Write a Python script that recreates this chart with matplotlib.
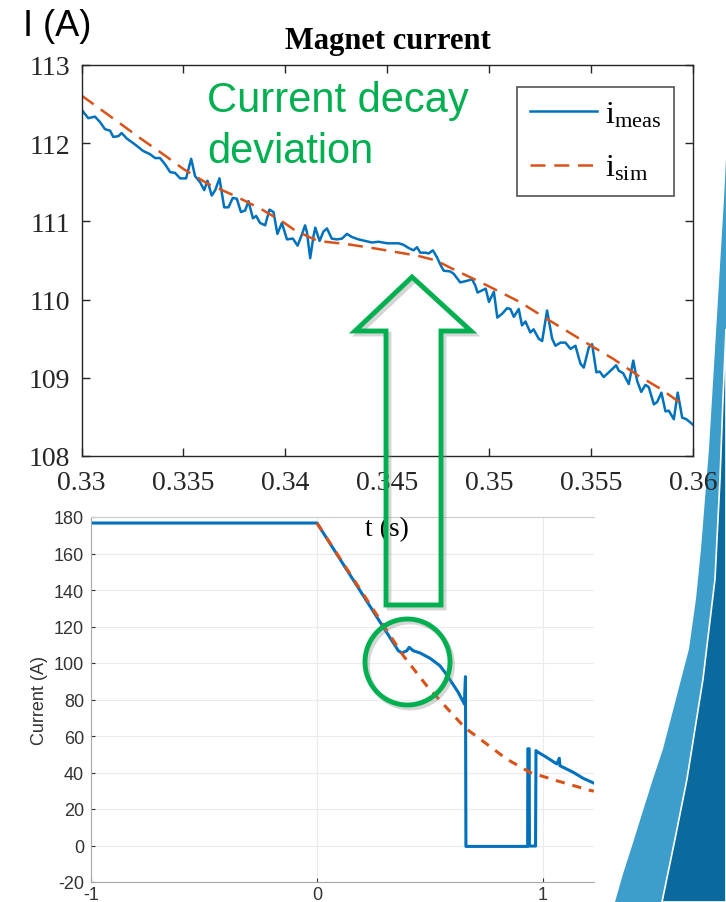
import matplotlib
matplotlib.use("Agg")
import matplotlib.pyplot as plt
from matplotlib.patches import Polygon, Ellipse

plt.rcParams['axes.unicode_minus'] = False

W, H = 726, 903

# --- top panel: zoom on the decay (measured vs simulated) ---
t_meas = [
    0.33000, 0.33033, 0.33066, 0.33091, 0.33115, 0.33140, 0.33156, 0.33181, 0.33197, 0.33222,
    0.33254, 0.33279, 0.33303, 0.33336, 0.33361, 0.33385, 0.33410, 0.33435, 0.33459, 0.33484,
    0.33513, 0.33538, 0.33557, 0.33582, 0.33602, 0.33618, 0.33639, 0.33656, 0.33677, 0.33700,
    0.33721, 0.33742, 0.33762, 0.33782, 0.33803, 0.33819, 0.33841, 0.33857, 0.33876, 0.33901,
    0.33922, 0.33942, 0.33961, 0.33983, 0.34008, 0.34037, 0.34060, 0.34081, 0.34097, 0.34106,
    0.34122, 0.34138, 0.34147, 0.34168, 0.34187, 0.34204, 0.34228, 0.34253, 0.34278, 0.34302,
    0.34327, 0.34359, 0.34392, 0.34425, 0.34457, 0.34499, 0.34531, 0.34556, 0.34580, 0.34605,
    0.34629, 0.34646, 0.34662, 0.34687, 0.34703, 0.34724, 0.34744, 0.34764, 0.34777, 0.34809,
    0.34826, 0.34858, 0.34891, 0.34916, 0.34932, 0.34943, 0.34983, 0.34999, 0.35023, 0.35040,
    0.35064, 0.35088, 0.35104, 0.35121, 0.35145, 0.35161, 0.35178, 0.35202, 0.35218, 0.35243,
    0.35260, 0.35284, 0.35309, 0.35325, 0.35350, 0.35374, 0.35399, 0.35423, 0.35448, 0.35464,
    0.35489, 0.35505, 0.35526, 0.35542, 0.35562, 0.35587, 0.35623, 0.35636, 0.35657, 0.35685,
    0.35707, 0.35726, 0.35746, 0.35767, 0.35783, 0.35808, 0.35824, 0.35845, 0.35865, 0.35881,
    0.35906, 0.35925, 0.35947, 0.35968, 0.36000,
]
i_meas = [
    112.43, 112.32, 112.34, 112.27, 112.18, 112.16, 112.08, 112.09, 112.13, 112.06,
    112.00, 111.95, 111.90, 111.86, 111.81, 111.81, 111.73, 111.63, 111.62, 111.55,
    111.55, 111.80, 111.58, 111.50, 111.40, 111.52, 111.33, 111.40, 111.55, 111.18,
    111.18, 111.30, 111.29, 111.12, 111.14, 111.26, 111.04, 111.07, 110.98, 110.95,
    111.15, 111.12, 110.84, 110.98, 110.77, 110.78, 110.69, 110.83, 110.95, 110.86,
    110.53, 110.81, 110.92, 110.75, 110.87, 110.91, 110.78, 110.77, 110.78, 110.84,
    110.80, 110.77, 110.75, 110.73, 110.74, 110.72, 110.72, 110.72, 110.70, 110.66,
    110.63, 110.67, 110.60, 110.60, 110.59, 110.63, 110.54, 110.43, 110.37, 110.36,
    110.33, 110.22, 110.24, 110.26, 110.18, 110.09, 110.14, 109.97, 110.10, 109.77,
    109.82, 109.89, 109.88, 109.78, 109.88, 109.67, 109.72, 109.58, 109.62, 109.50,
    109.47, 109.86, 109.50, 109.41, 109.45, 109.45, 109.37, 109.41, 109.18, 109.13,
    109.39, 109.43, 109.07, 109.08, 109.01, 109.07, 109.16, 109.09, 109.06, 108.92,
    109.22, 108.96, 108.82, 108.91, 108.88, 108.66, 108.69, 108.81, 108.57, 108.58,
    108.47, 108.81, 108.49, 108.47, 108.40,
]
t_sim = [0.3300, 0.3318, 0.3329, 0.3340, 0.3350, 0.3362, 0.3375, 0.3388, 0.3399, 0.3405,
         0.3416, 0.3430, 0.3445, 0.3465, 0.3474, 0.3483, 0.3496, 0.3515, 0.3526, 0.3538,
         0.3550, 0.3561, 0.3573, 0.3584, 0.3596]
i_sim = [112.61, 112.27, 112.06, 111.86, 111.67, 111.48, 111.33, 111.16, 110.99, 110.88,
         110.75, 110.71, 110.65, 110.56, 110.50, 110.38, 110.22, 109.97, 109.79, 109.60,
         109.41, 109.24, 109.03, 108.86, 108.64]

top_xticks = [0.33, 0.335, 0.34, 0.345, 0.35, 0.355, 0.36]
top_xlabels = ['0.33', '0.335', '0.34', '0.345', '0.35', '0.355', '0.36']
top_yticks = [108, 109, 110, 111, 112, 113]

# --- bottom panel: full discharge ---
t_full_meas = [-1, 0, 0.36, 0.375, 0.397, 0.408, 0.426, 0.456, 0.50, 0.544,
               0.566, 0.596, 0.625, 0.652, 0.657, 0.659, 0.932, 0.933, 0.939, 0.940,
               0.967, 0.969, 0.972, 1.016, 1.061, 1.072, 1.075, 1.134, 1.178, 1.225]
i_full_meas = [176.7, 176.7, 106.7, 105.5, 106.7, 108.6, 106.7, 105.5, 102.6, 98.5,
               94.9, 89.4, 83.9, 77.5, 92.5, -0.5, -0.5, 53, 53, -0.3,
               -0.3, 52, 51.6, 48.3, 44.7, 47.8, 43.7, 40.1, 36.8, 34.2]
t_full_sim = [0, 0.382, 0.485, 0.588, 0.655, 0.736, 0.839, 0.942, 1.061, 1.208, 1.225]
i_full_sim = [176.7, 104, 87.6, 73.5, 64.5, 57, 47.4, 40.1, 35.5, 30.2, 29.8]

bot_xticks = [-1, 0, 1]
bot_yticks = [-20, 0, 20, 40, 60, 80, 100, 120, 140, 160, 180]

BLUE = '#0072BD'
ORANGE = '#D95319'
GREEN = '#00B050'
SERIF = 'Liberation Serif'
SANS = 'Liberation Sans'


def rect(x0, y0, x1, y1):
    return [x0 / W, 1 - y1 / H, (x1 - x0) / W, (y1 - y0) / H]


def pt(x, y):
    return (x / W, 1 - y / H)


fig = plt.figure(figsize=(W / 100, H / 100), dpi=100)

# slide decoration on the right edge (pixel outline)
outer_y = [160, 200, 250, 300, 350, 400, 450, 500, 550, 600, 650, 700, 750, 780, 815, 847, 875, 903]
outer_x = [726, 724, 721, 718, 715, 712, 709, 705, 701, 696, 689, 676, 663, 653, 642, 632, 623, 615]
inner_y = [330, 400, 480, 580, 680, 780, 840, 903]
inner_x = [726, 723, 720, 715, 703, 687, 675, 662]
outer = list(zip(outer_x, outer_y)) + [(726, 903)]
inner = list(zip(inner_x, inner_y)) + [(726, 903)]
fig.add_artist(Polygon([pt(*p) for p in outer], closed=True, transform=fig.transFigure,
                       facecolor='#3d9dcb', edgecolor='none', zorder=-2))
fig.add_artist(Polygon([pt(*p) for p in inner], closed=True, transform=fig.transFigure,
                       facecolor='#0a6a9e', edgecolor='white', lw=1.2, zorder=-1))

# top axes
ax = fig.add_axes(rect(81.5, 66, 693, 457))
ax.set_facecolor('none')
l1, = ax.plot(t_meas, i_meas, color=BLUE, lw=1.8)
l2, = ax.plot(t_sim, i_sim, color=ORANGE, lw=1.8, dashes=(6, 3.5))
ax.set_xlim(0.33, 0.36)
ax.set_ylim(108, 113)
ax.set_xticks(top_xticks)
ax.set_xticklabels(top_xlabels)
ax.set_yticks(top_yticks)
ax.tick_params(direction='in', length=6, width=1, top=True, right=True,
               labelsize=20, colors='#262626')
ax.tick_params(axis='x', pad=10)
ax.tick_params(axis='y', pad=8)
for lab in ax.get_xticklabels() + ax.get_yticklabels():
    lab.set_family(SERIF)
for s in ax.spines.values():
    s.set_color('#262626')
    s.set_linewidth(1.0)

leg = ax.legend([l1, l2], [r'$\mathregular{i_{meas}}$', r'$\mathregular{i_{sim}}$'],
                loc='upper left', bbox_to_anchor=(517 / W, 1 - 88 / H),
                bbox_transform=fig.transFigure, borderaxespad=0,
                prop={'family': SERIF, 'size': 23}, fancybox=False,
                handlelength=2.1, handletextpad=0.25, labelspacing=0.75, borderpad=0.4)
leg.get_frame().set_edgecolor('#262626')
leg.get_frame().set_linewidth(1.2)

fig.text(388 / W, 1 - 42 / H, 'Magnet current', ha='center', va='center',
         family=SERIF, fontsize=22, fontweight='bold')
fig.text(57 / W, 1 - 27 / H, 'I (A)', ha='center', va='center', family=SANS, fontsize=26)

# bottom axes
bx = fig.add_axes(rect(91, 518, 594, 883))
bx.plot(t_full_meas, i_full_meas, color=BLUE, lw=2.2)
bx.plot(t_full_sim, i_full_sim, color=ORANGE, lw=2.2, dashes=(3, 2.6))
bx.set_xlim(-1, 1.2257)
bx.set_ylim(-20, 180)
bx.set_xticks(bot_xticks)
bx.set_yticks(bot_yticks)
bx.grid(True, color='#ebebeb', lw=0.8)
bx.set_axisbelow(True)
bx.tick_params(direction='in', length=3, width=0.8, labelsize=13, colors='#333333', pad=3)
bx.tick_params(axis='y', pad=5)
for lab in bx.get_xticklabels() + bx.get_yticklabels():
    lab.set_family(SANS)
bx.spines['right'].set_visible(False)
bx.spines['top'].set_color('#cccccc')
bx.spines['left'].set_color('#a8a8a8')
bx.spines['bottom'].set_color('#a8a8a8')
bx.set_ylabel('Current (A)', family=SANS, fontsize=13, color='#333333', labelpad=4)

fig.text(387 / W, 1 - 530 / H, 't (s)', ha='center', va='center', family=SERIF,
         fontsize=20, zorder=5)

# green annotations
fig.text(207 / W, 1 - 112 / H, 'Current decay', ha='left', va='baseline',
         family=SANS, fontsize=30, color=GREEN, zorder=10)
fig.text(207 / W, 1 - 163 / H, 'deviation', ha='left', va='baseline',
         family=SANS, fontsize=30, color=GREEN, zorder=10)

arrow = [(412, 278), (471, 332), (441, 332), (441, 606), (386, 606), (386, 332), (355, 332)]
fig.add_artist(Polygon([pt(x + 3, y + 3) for x, y in arrow], closed=True,
                       transform=fig.transFigure, facecolor='none',
                       edgecolor='#888888', lw=3.5, alpha=0.35, zorder=9))
fig.add_artist(Polygon([pt(*p) for p in arrow], closed=True, transform=fig.transFigure,
                       facecolor='none', edgecolor=GREEN, lw=3.5, joinstyle='miter',
                       zorder=10))
fig.add_artist(Ellipse(pt(410, 666), 85 / W, 86 / H, transform=fig.transFigure,
                       facecolor='none', edgecolor='#888888', lw=3.5, alpha=0.35, zorder=9))
fig.add_artist(Ellipse(pt(407.5, 663), 85 / W, 86 / H, transform=fig.transFigure,
                       facecolor='none', edgecolor=GREEN, lw=3.5, zorder=10))

fig.savefig('out.png', dpi=100)
